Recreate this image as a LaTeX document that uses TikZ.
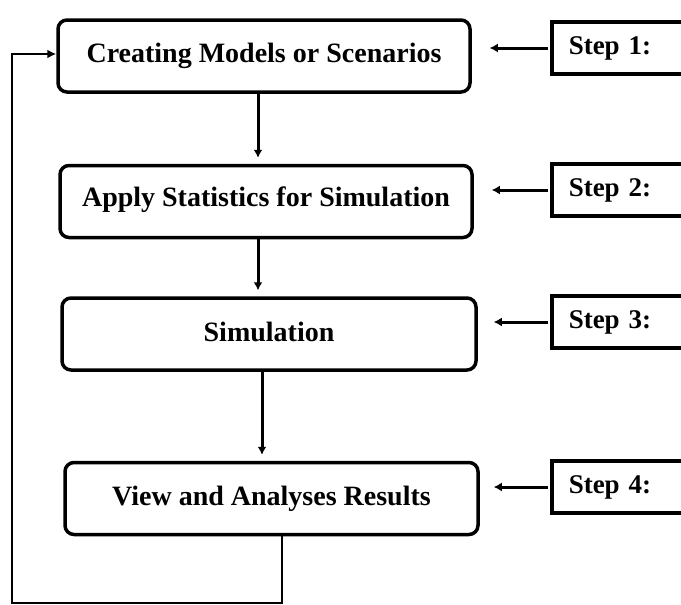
\documentclass[tikz,border=0pt]{standalone}
\usepackage{fontspec}
\setmainfont{Liberation Serif}
\usetikzlibrary{arrows.meta}
\begin{document}
\begin{tikzpicture}[x=1pt,y=-1pt,
  mainbox/.style={draw, line width=3.5pt, rounded corners=9pt, minimum width=412pt, minimum height=72pt, inner sep=0pt, font=\fontsize{28}{30}\selectfont\bfseries},
  stepbox/.style={draw, line width=3.5pt, minimum height=52pt, anchor=west, inner xsep=17pt, inner ysep=0pt, text width=140pt, align=left, font=\fontsize{27}{29}\selectfont\bfseries},
  arr/.style={line width=3pt, -{Latex[length=8pt,width=9pt]}},
  fb/.style={line width=2.5pt}
]
\clip (0,0) rectangle (681,605);
\fill[white] (0,0) rectangle (681,605);

\node[mainbox] (b1) at (264,56) {\raisebox{6pt}{Creating Models or Scenarios}};
\node[mainbox] (b2) at (266,201.5) {\raisebox{9pt}{Apply Statistics for Simulation}};
\node[mainbox, minimum width=414pt] (b3) at (269,334) {\raisebox{4pt}{Simulation}};
\node[mainbox, minimum width=413pt] (b4) at (271.5,498.5) {\raisebox{6pt}{View and Analyses Results}};

\node[stepbox] (s1) at (550,48) {Step 1:};
\node[stepbox] (s2) at (550,190) {Step 2:};
\node[stepbox] (s3) at (550,322) {Step 3:};
\node[stepbox] (s4) at (550,487) {Step 4:};

\draw[arr, shorten >=18pt, shorten <=2pt] (s1.west) -- (s1.west -| b1.east);
\draw[arr, shorten >=18pt, shorten <=2pt] (s2.west) -- (s2.west -| b2.east);
\draw[arr, shorten >=16pt, shorten <=2pt] (s3.west) -- (s3.west -| b3.east);
\draw[arr, shorten >=14pt, shorten <=2pt] (s4.west) -- (s4.west -| b4.east);

\draw[arr, shorten >=6pt] ([xshift=-6pt]b1.south) -- ([xshift=-8pt]b2.north);
\draw[arr, shorten >=6pt] ([xshift=-8pt]b2.south) -- ([xshift=-11pt]b3.north);
\draw[arr, shorten >=6pt] ([xshift=-7pt]b3.south) -- ([xshift=-9.5pt]b4.north);

\coordinate (fbc) at (12,603);
\draw[fb, -{Latex[length=9pt,width=9pt]}] ([xshift=10.5pt]b4.south) |- (fbc) |- ([yshift=2pt]b1.west);
\end{tikzpicture}
\end{document}
